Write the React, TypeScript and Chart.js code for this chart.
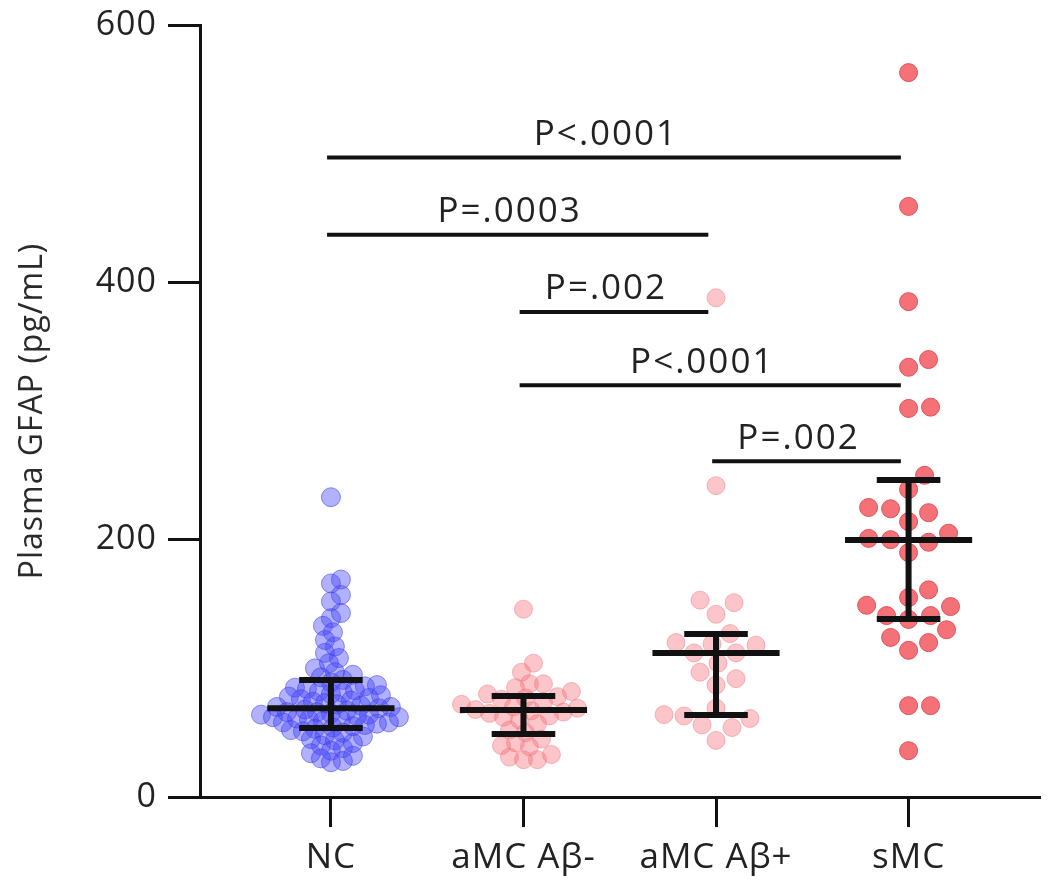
import React, { useEffect, useRef } from "react";
import { Chart, registerables } from "chart.js";

Chart.register(...registerables);

const categories = ["NC", "aMC Aβ-", "aMC Aβ+", "sMC"];

const ncValues = [
  233, 169, 166, 157, 152, 143, 139, 133, 128, 122, 117, 112, 108, 104, 100, 97, 95, 93, 91, 89,
  87, 86, 85, 84, 83, 82, 81, 80, 79, 78, 77, 76, 75, 74, 73, 72, 71, 70, 70, 69, 68, 67, 66, 66,
  65, 64, 64, 63, 62, 62, 61, 60, 60, 59, 58, 58, 57, 56, 55, 54, 53, 52, 51, 50, 48, 47, 45, 44,
  42, 40, 38, 36, 34, 32, 30, 28, 27,
];
const amcNegValues = [
  146, 104, 97, 88, 88, 85, 82, 80, 78, 77, 76, 74, 72, 70, 69, 68, 67, 66, 65, 63, 62, 60, 57, 52,
  50, 45, 42, 40, 39, 33, 31, 29, 29,
];
const amcPosValues = [
  388, 242, 153, 151, 142, 127, 120, 119, 118, 112, 112, 104, 97, 92, 87, 69, 64, 63, 61, 56, 54, 44,
];
const smcValues = [
  563, 459, 385, 340, 334, 303, 302, 250, 239, 225, 224, 221, 214, 205, 201, 200, 198, 190, 161, 155,
  149, 148, 141, 141, 138, 130, 124, 120, 114, 71, 71, 36,
];

const medians = [69, 67.6, 112, 199.8];
const lowerBars = [53.6, 49, 63.7, 138.4];
const upperBars = [91, 78.5, 126.7, 246.4];

const bracketFrom = [0, 0, 1, 1, 2];
const bracketTo = [3, 2, 2, 3, 3];
const bracketLevel = [497, 437, 377, 320, 261];
const bracketLabels = ["P<.0001", "P=.0003", "P=.002", "P<.0001", "P=.002"];

const yTicks = [0, 200, 400, 600];

const X_MIN = -0.68;
const X_MAX = 3.68;
const PX_PER_X = 840 / (X_MAX - X_MIN);
const PX_PER_Y = 772 / 600;

function swarm(values: number[], minDist: number, step: number): number[] {
  const order = values.map((_, i) => i).sort((a, b) => values[a] - values[b]);
  const placed: { x: number; y: number }[] = [];
  const offs = new Array(values.length).fill(0);
  for (const i of order) {
    const y = values[i] * PX_PER_Y;
    for (let k = 0; k < 400; k++) {
      const cand = k === 0 ? 0 : (k % 2 ? 1 : -1) * Math.ceil(k / 2) * step;
      if (placed.every((p) => Math.hypot(p.x - cand, p.y - y) >= minDist)) {
        offs[i] = cand;
        placed.push({ x: cand, y });
        break;
      }
    }
  }
  return offs.map((o) => o / PX_PER_X);
}

function points(values: number[], cat: number, minDist: number, step: number) {
  const offs = swarm(values, minDist, step);
  return values.map((v, i) => ({ x: cat + offs[i], y: v }));
}

const spacingPlugin = {
  id: "spacing",
  beforeDraw(chart: any) {
    try {
      chart.ctx.letterSpacing = "1px";
    } catch (e) {}
  },
};

const overlayPlugin = {
  id: "overlay",
  afterDatasetsDraw(chart: any) {
    const { ctx, scales } = chart;
    const xs = scales.x;
    const ys = scales.y;
    ctx.save();
    ctx.strokeStyle = "#111";
    ctx.lineCap = "butt";
    for (let i = 0; i < categories.length; i++) {
      const cx = xs.getPixelForValue(i);
      const m = ys.getPixelForValue(medians[i]);
      const lo = ys.getPixelForValue(lowerBars[i]);
      const hi = ys.getPixelForValue(upperBars[i]);
      const mw = 0.33 * PX_PER_X;
      const cw = 0.165 * PX_PER_X;
      ctx.lineWidth = 6;
      ctx.beginPath();
      ctx.moveTo(cx - mw, m);
      ctx.lineTo(cx + mw, m);
      ctx.moveTo(cx - cw, hi);
      ctx.lineTo(cx + cw, hi);
      ctx.moveTo(cx - cw, lo);
      ctx.lineTo(cx + cw, lo);
      ctx.moveTo(cx, hi);
      ctx.lineTo(cx, lo);
      ctx.stroke();
    }
    ctx.lineWidth = 4;
    ctx.fillStyle = "#222";
    ctx.font = "35px 'Open Sans'";
    try {
      ctx.letterSpacing = "2px";
    } catch (e) {}
    ctx.textAlign = "center";
    ctx.textBaseline = "bottom";
    for (let i = 0; i < bracketLabels.length; i++) {
      const x1 = xs.getPixelForValue(bracketFrom[i] - 0.02);
      const x2 = xs.getPixelForValue(bracketTo[i] - 0.04);
      const y = ys.getPixelForValue(bracketLevel[i]);
      ctx.beginPath();
      ctx.moveTo(x1, y);
      ctx.lineTo(x2, y);
      ctx.stroke();
      ctx.fillText(bracketLabels[i], (x1 + x2) / 2 - 8, y - 5);
    }
    ctx.restore();
  },
};

export default function App() {
  const ref = useRef<HTMLCanvasElement>(null);
  useEffect(() => {
    if (!ref.current) return;
    const blueFill = "rgba(70,70,250,0.42)";
    const blueBorder = "rgba(60,60,235,0.55)";
    const pinkFill = "rgba(245,110,120,0.40)";
    const pinkBorder = "rgba(240,110,120,0.45)";
    const redFill = "rgba(242,98,104,0.9)";
    const redBorder = "rgba(225,80,88,1)";
    const chart = new Chart(ref.current, {
      type: "scatter",
      data: {
        datasets: [
          {
            label: categories[0],
            data: points(ncValues, 0, 10.5, 2),
            backgroundColor: blueFill,
            borderColor: blueBorder,
            borderWidth: 1,
            pointRadius: 9.5,
          },
          {
            label: categories[1],
            data: points(amcNegValues, 1, 14, 2),
            backgroundColor: pinkFill,
            borderColor: pinkBorder,
            borderWidth: 1,
            pointRadius: 9,
          },
          {
            label: categories[2],
            data: points(amcPosValues, 2, 20, 2),
            backgroundColor: pinkFill,
            borderColor: pinkBorder,
            borderWidth: 1,
            pointRadius: 9,
          },
          {
            label: categories[3],
            data: points(smcValues, 3, 21, 2),
            backgroundColor: redFill,
            borderColor: redBorder,
            borderWidth: 1,
            pointRadius: 9,
          },
        ],
      },
      options: {
        responsive: false,
        animation: false,
        devicePixelRatio: 1,
        layout: { padding: { top: 25, right: 10, left: 0, bottom: 0 } },
        plugins: { legend: { display: false }, tooltip: { enabled: false } },
        scales: {
          x: {
            type: "linear",
            min: X_MIN,
            max: X_MAX,
            afterBuildTicks: (scale: any) => {
              scale.ticks = categories.map((_, i) => ({ value: i }));
            },
            afterFit: (scale: any) => {
              scale.height = 94;
              scale.paddingLeft = 0;
              scale.paddingRight = 0;
            },
            ticks: {
              callback: (v: any) => categories[v as number] ?? "",
              font: { family: "'Open Sans'", size: 35 },
              color: "#222",
              padding: 10,
              maxRotation: 0,
              autoSkip: false,
            },
            grid: {
              display: true,
              drawOnChartArea: false,
              drawTicks: true,
              tickLength: 30,
              lineWidth: 3,
              color: "#111",
            },
            border: { display: true, width: 3, color: "#111" },
          },
          y: {
            min: 0,
            max: 600,
            afterBuildTicks: (scale: any) => {
              scale.ticks = yTicks.map((v) => ({ value: v }));
            },
            afterFit: (scale: any) => {
              scale.width = 200;
              scale.paddingTop = 0;
              scale.paddingBottom = 0;
            },
            ticks: {
              font: { family: "'Open Sans'", size: 34 },
              color: "#222",
              padding: 11,
            },
            grid: {
              display: true,
              drawOnChartArea: false,
              drawTicks: true,
              tickLength: 32,
              lineWidth: 3,
              color: "#111",
            },
            border: { display: true, width: 3, color: "#111" },
            title: {
              display: true,
              text: "Plasma GFAP (pg/mL)",
              font: { family: "'Open Sans'", size: 32 },
              color: "#2a2a2a",
              padding: { top: 14, bottom: 0 },
            },
          },
        },
      },
      plugins: [spacingPlugin, overlayPlugin],
    });
    return () => chart.destroy();
  }, []);
  return (
    <div style={{ position: "absolute", left: 0, top: 0, width: 1050, height: 891, background: "#fff" }}>
      <canvas ref={ref} width={1050} height={891} style={{ display: "block" }} />
    </div>
  );
}
